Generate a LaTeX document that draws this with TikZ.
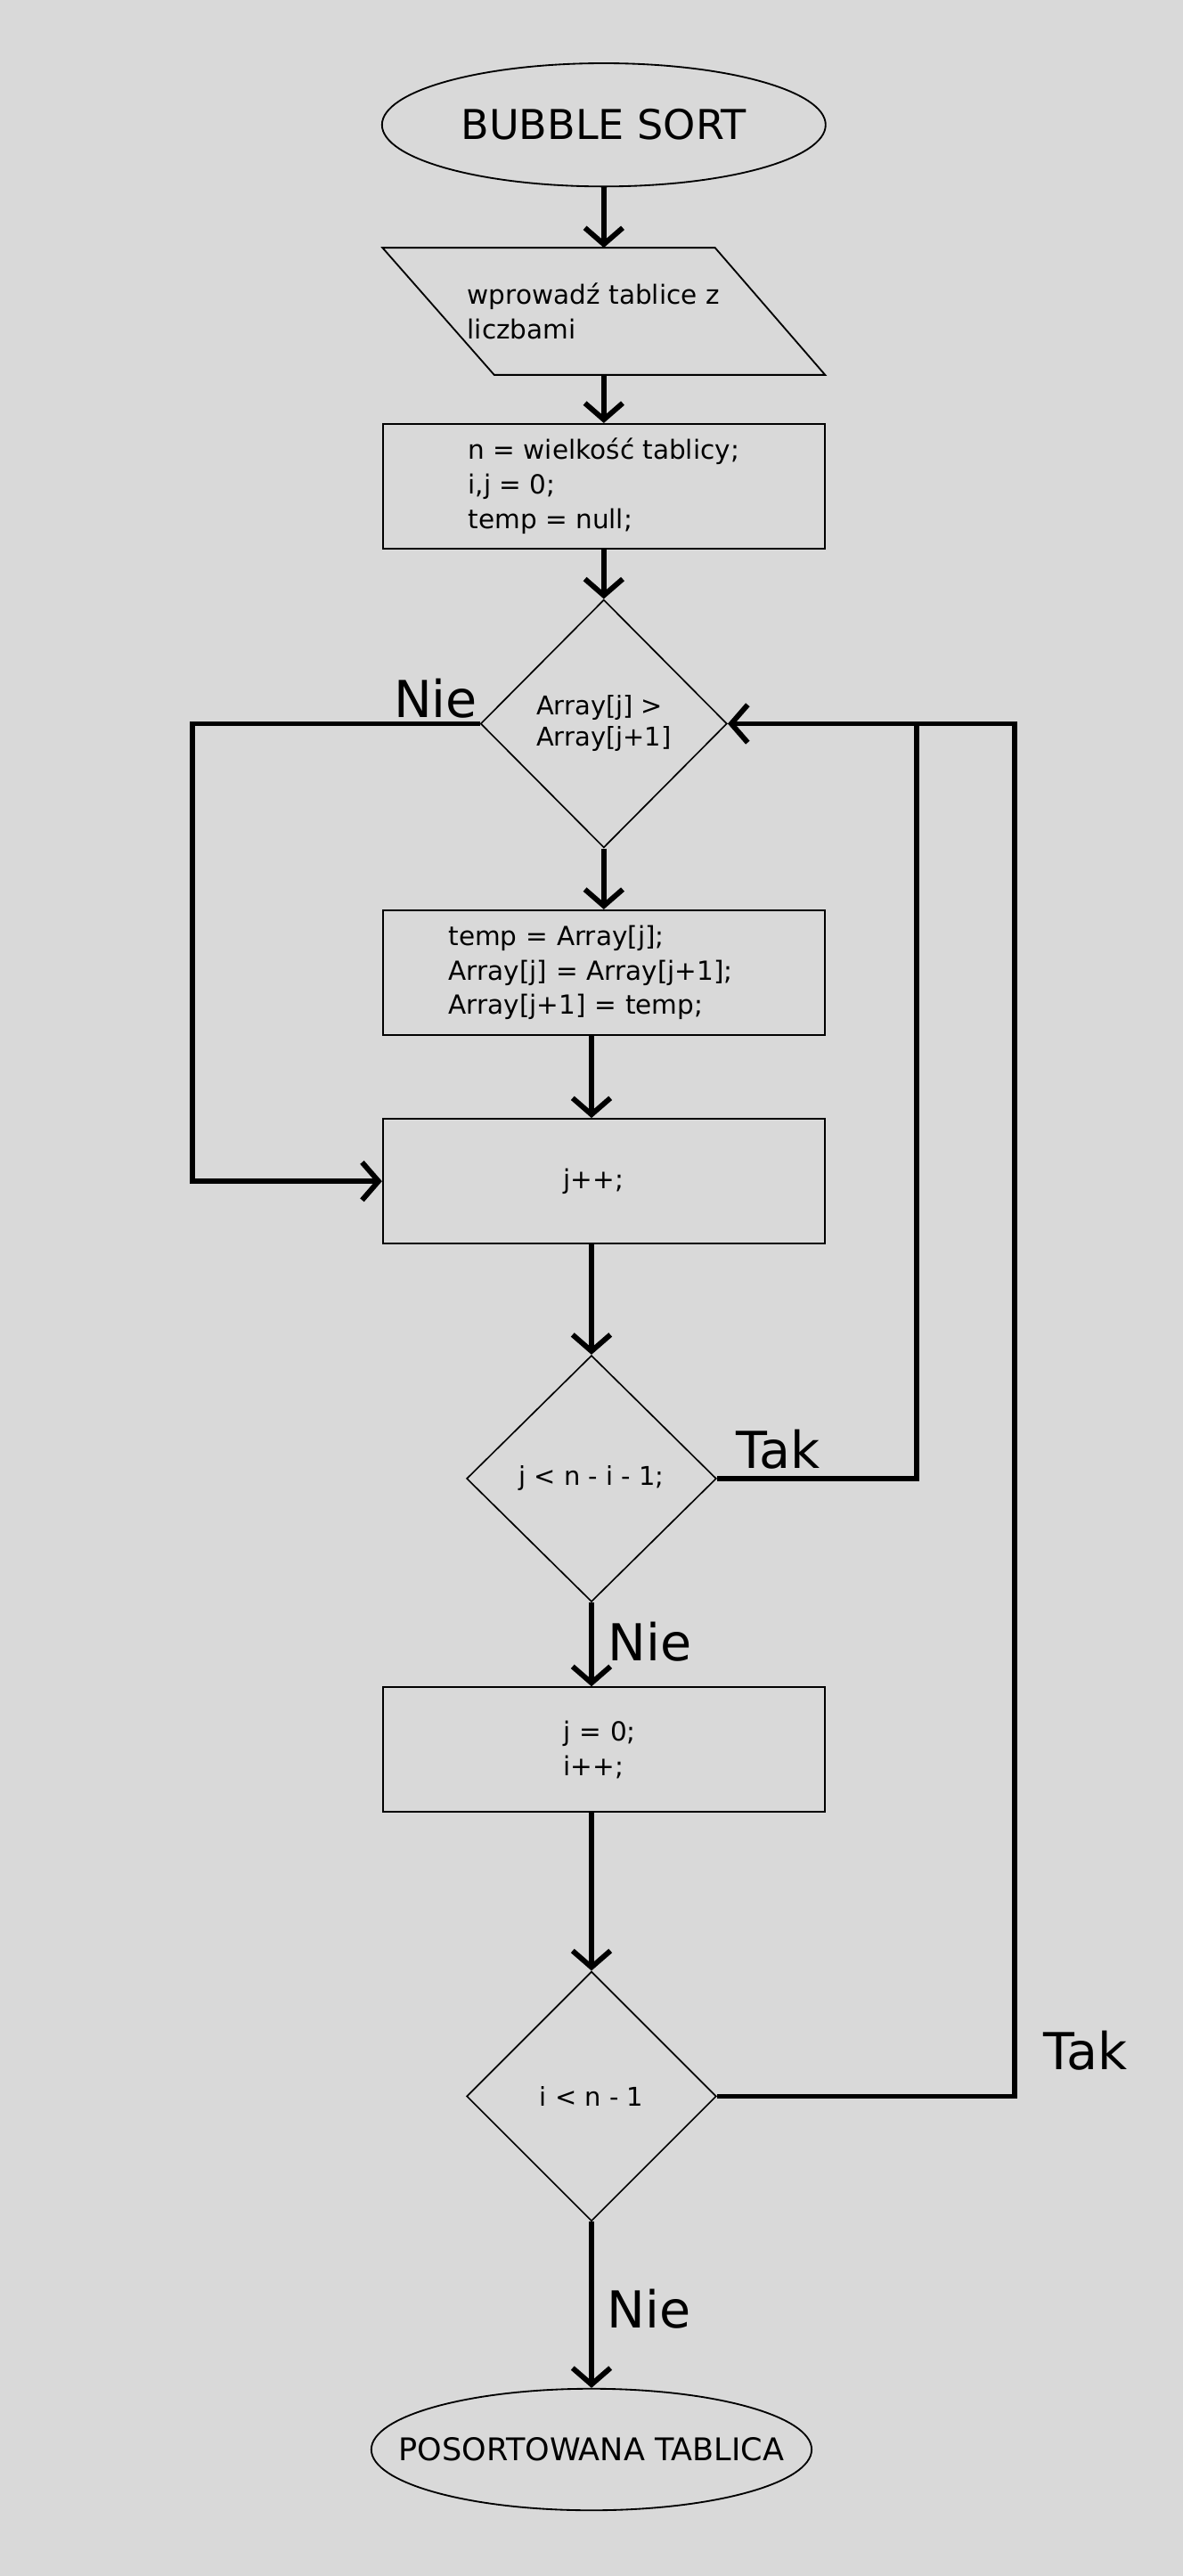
\documentclass[tikz,border=0pt]{standalone}
\usepackage{fontspec}
\setmainfont{DejaVu Sans}
\usetikzlibrary{shapes.geometric,arrows.meta}
\definecolor{bg}{RGB}{217,217,217}
\begin{document}
\begin{tikzpicture}[x=1pt,y=-1pt,
  conn/.style={line width=3.2pt,-{Straight Barb[length=10pt,width=23pt]}},
  plain/.style={line width=3.2pt},
  box/.style={draw,line width=1pt,rectangle,minimum width=269pt,minimum height=76pt,inner sep=0pt,align=left,font=\fontsize{16}{21}\selectfont},
  dec/.style={draw,line width=0.9pt,diamond,inner sep=0pt,align=left,font=\fontsize{15.7}{19}\selectfont},
  term/.style={draw,line width=1pt,ellipse,inner sep=0pt},
  lbl/.style={font=\fontsize{31}{31}\selectfont,anchor=base west,inner sep=0pt},
]
\fill[bg] (0,0) rectangle (720,1568);
\useasboundingbox (0,0) rectangle (720,1568);

% nodes
\node[term,minimum width=270pt,minimum height=75pt,font=\fontsize{25}{25}\selectfont] (start) at (367.5,76) {\makebox[0pt]{BUBBLE SORT}};
\node[rectangle,minimum width=269pt,minimum height=77pt,inner sep=0pt,text width=166pt,align=left,font=\fontsize{16}{21}\selectfont] (in) at (367.5,189.5) {wprowadź tablice z\\liczbami};
\draw[line width=1pt] (in.north west) -- ([xshift=-67pt]in.north east) -- (in.south east) -- ([xshift=68pt]in.south west) -- cycle;
\node[box] (init) at (367.5,296) {n = wielkość tablicy;\\i,j = 0;\\temp = null;};
\node[dec,minimum width=150pt,minimum height=151pt] (c1) at (367.5,440.5) {Array[j] >\\Array[j+1]};
\node[box,text width=189pt] (swap) at (367.5,592) {temp = Array[j];\\Array[j] = Array[j+1];\\Array[j+1] = temp;};
\node[box,text width=49pt] (jinc) at (367.5,719) {j++;};
\node[dec,minimum width=152pt,minimum height=150pt] (c2) at (360,900) {j < n - i - 1;};
\node[box,text width=49pt] (reset) at (367.5,1065) {j = 0;\\i++;};
\node[dec,minimum width=152pt,minimum height=152pt] (c3) at (360,1276) {i < n - 1};
\node[term,minimum width=268pt,minimum height=74pt,font=\fontsize{19}{19}\selectfont] (end) at (360,1491) {\makebox[0pt]{POSORTOWANA TABLICA}};

% helper coordinates
\coordinate (nl) at (117,580);
\coordinate (tj) at (558,440.5);
\coordinate (to) at (617.5,800);

% connectors
\draw[conn] (start.south) -- (in.north);
\draw[conn] (in.south) -- (init.north);
\draw[conn] (init.south) -- (c1.north);
\draw[conn] (c1.south) -- (swap.north);
\draw[conn] (swap.south -| c2.north) -- (jinc.north -| c2.north);
\draw[conn] (jinc.south -| c2.north) -- (c2.north);
\draw[conn] (c2.south) -- (reset.north -| c2.south);
\draw[conn] (reset.south -| c3.north) -- (c3.north);
\draw[conn] (c3.south) -- (end.north);
\draw[conn] (c1.west) -- (c1.west -| nl) |- (jinc.west);
\draw[conn] (c2.east) -| (tj) -- (c1.east);
\draw[plain] (c3.east) -| (to |- tj) -- (tj);

% labels
\node[lbl] (nie1) at (239.5,436.5) {Nie};
\node[lbl] (tak1) at (448,894) {Tak};
\node[lbl] (nie2) at (370,1011) {Nie};
\node[lbl] (tak2) at (635,1259.5) {Tak};
\node[lbl] (nie3) at (369.5,1417) {Nie};
\end{tikzpicture}
\end{document}
